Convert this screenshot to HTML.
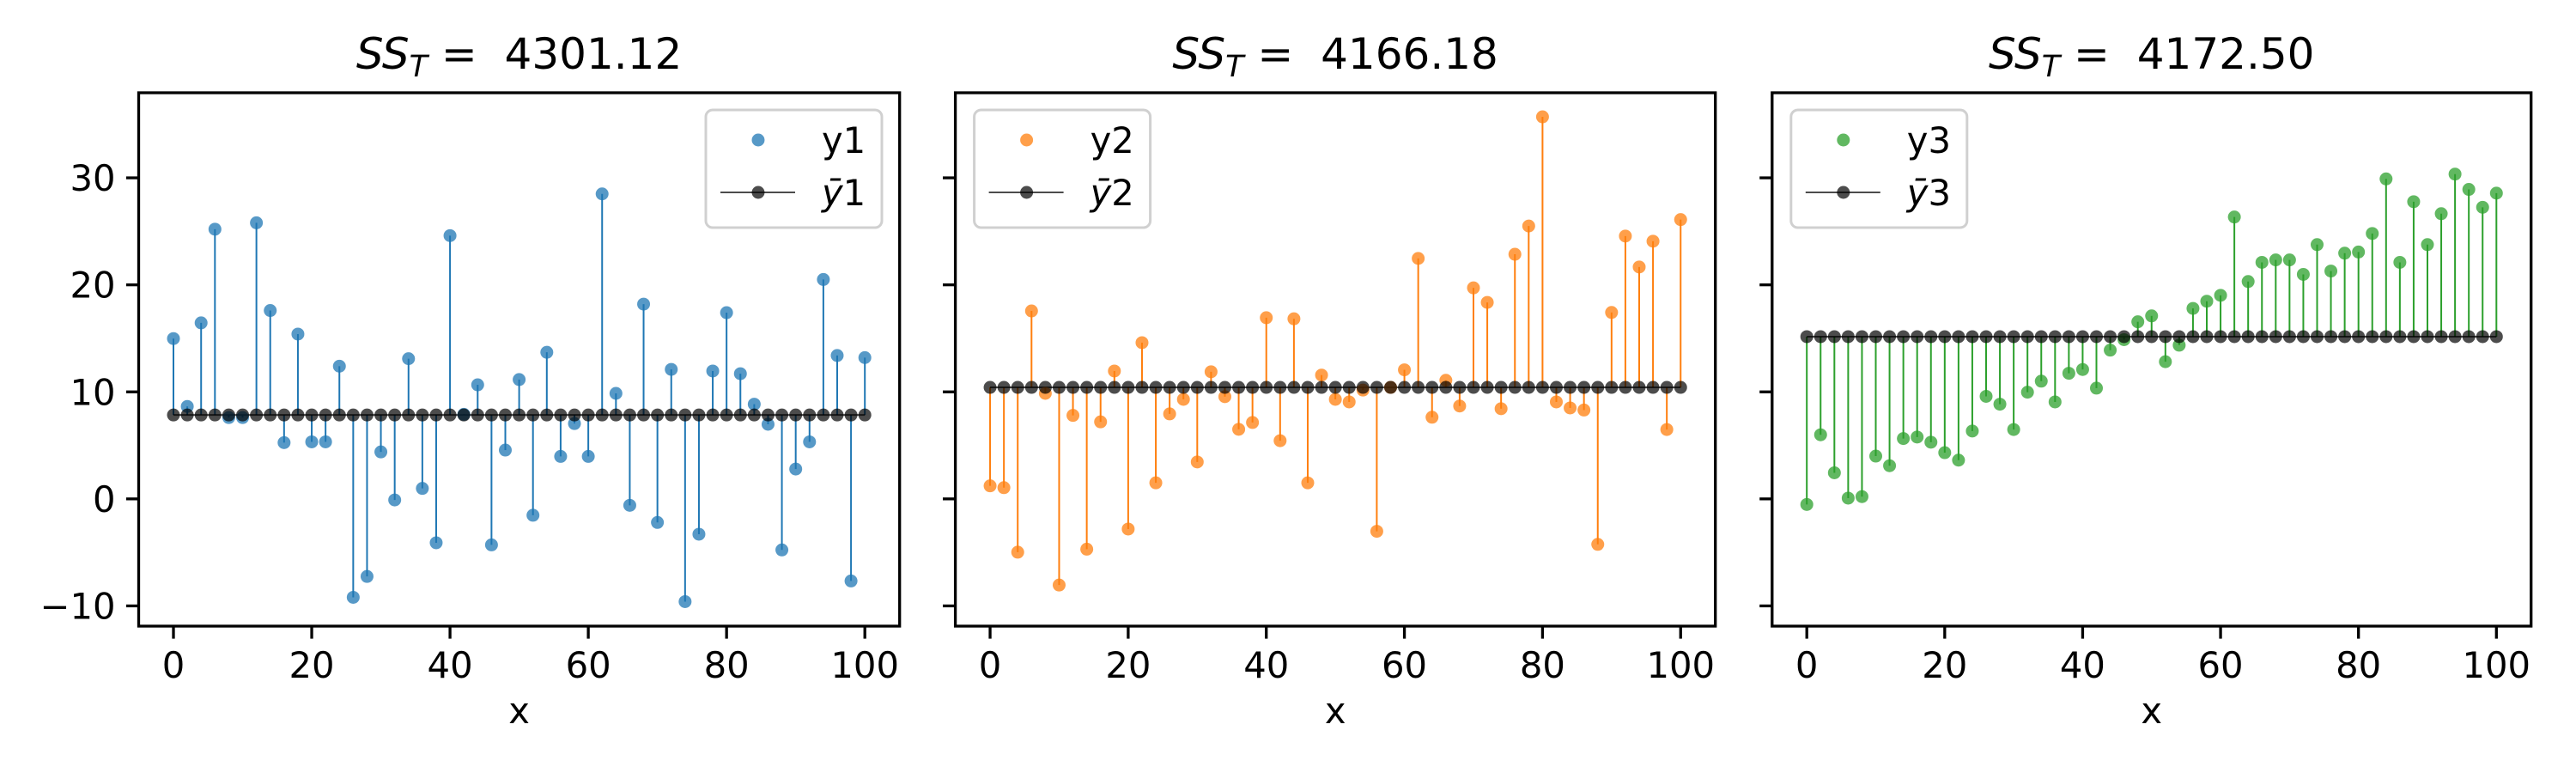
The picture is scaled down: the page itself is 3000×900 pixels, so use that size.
<!DOCTYPE html>
<html><head><meta charset="utf-8"><style>
html,body{margin:0;padding:0;background:#fff;}
svg{display:block;font-family:"DejaVu Sans","Liberation Sans",sans-serif;}
</style></head><body>
<svg id="chart" width="3000" height="900" viewBox="0 0 3000 900" xmlns="http://www.w3.org/2000/svg"></svg>
<script>
const xValues = [0,2,4,6,8,10,12,14,16,18,20,22,24,26,28,30,32,34,36,38,40,42,44,46,48,50,52,54,56,58,60,62,64,66,68,70,72,74,76,78,80,82,84,86,88,90,92,94,96,98,100];
const y1Values = [14.98,8.64,16.45,25.2,7.6,7.6,25.8,17.6,5.26,15.4,5.33,5.33,12.4,-9.2,-7.25,4.39,-0.1,13.1,0.98,-4.1,24.6,7.9,10.66,-4.3,4.56,11.15,-1.53,13.7,3.97,7.04,3.97,28.5,9.86,-0.6,18.2,-2.2,12.1,-9.6,-3.3,11.95,17.4,11.7,8.85,6.97,-4.77,2.79,5.33,20.5,13.4,-7.67,13.2];
const y2Values = [1.22,1.05,-4.98,17.56,9.86,-8.05,7.8,-4.7,7.2,11.95,-2.82,14.6,1.5,7.94,9.3,3.45,11.88,9.55,6.5,7.14,16.93,5.44,16.83,1.5,11.57,9.3,9.06,10.17,-3.03,10.42,12.06,22.47,7.63,11.08,8.68,19.72,18.36,8.43,22.86,25.5,35.7,9.06,8.5,8.3,-4.25,17.42,24.56,21.67,24.08,6.48,26.1];
const y3Values = [-0.52,5.99,2.44,0.07,0.21,4.0,3.1,5.64,5.78,5.3,4.32,3.62,6.34,9.58,8.85,6.48,9.97,11.0,9.06,11.74,12.09,10.35,13.9,14.88,16.55,17.1,12.82,14.36,17.8,18.47,19.02,26.34,20.31,22.1,22.33,22.33,20.98,23.76,21.29,22.96,23.07,24.8,29.9,22.1,27.77,23.76,26.65,30.35,28.92,27.25,28.57];
const meanValues = [7.84,10.42,15.16];
const titleValues = ["4301.12","4166.18","4172.50"];
const seriesNames = ["1","2","3"];
const yTicks = [-10,0,10,20,30];
const xTicks = [0,20,40,60,80,100];

const NS = "http://www.w3.org/2000/svg";
const svg = document.getElementById("chart");
const colors = ["#1f77b4","#ff7f0e","#2ca02c"];
const panels = [{l:161.5,r:1047.7},{l:1112.6,r:1997.7},{l:2063.8,r:2947.7}];
const TOP=108, BOT=729;
const yMin=-11.89, yMax=37.95, xMin=-5.03, xMax=105.03;
function mk(tag, attrs, parent){const e=document.createElementNS(NS,tag);for(const k in attrs)e.setAttribute(k,attrs[k]);(parent||svg).appendChild(e);return e;}
function yScale(v){return BOT-(v-yMin)/(yMax-yMin)*(BOT-TOP);}
const allY=[y1Values,y2Values,y3Values];

panels.forEach((p,i)=>{
  const xs=v=>p.l+(v-xMin)/(xMax-xMin)*(p.r-p.l);
  const g=mk("g",{});
  
  
  const t=mk("text",{x:(p.l+p.r)/2,y:80,"text-anchor":"middle","font-size":"50"},g);
  
  
  t.innerHTML='<tspan font-style="italic">SS</tspan><tspan font-style="italic" font-size="35" dy="9">T</tspan><tspan dy="-9">\u00a0=\u00a0\u00a0'+titleValues[i]+'</tspan>';
  const ys=allY[i], m=meanValues[i];
  xValues.forEach((xv,j)=>{
    const s=mk("line",{x1:xs(xv),x2:xs(xv),y1:yScale(m),y2:yScale(ys[j]),stroke:colors[i],"stroke-width":"2"},g);
    
    
  });
  const ml=mk("line",{x1:xs(xValues[0]),x2:xs(xValues[xValues.length-1]),y1:yScale(m),y2:yScale(m),stroke:"#000","stroke-opacity":"0.7","stroke-width":"2"},g);
  
  
  xValues.forEach((xv,j)=>{
    const c=mk("circle",{cx:xs(xv),cy:yScale(ys[j]),r:7.5,fill:colors[i],"fill-opacity":"0.75"},g);
    
    
  });
  xValues.forEach((xv)=>{
    const c=mk("circle",{cx:xs(xv),cy:yScale(m),r:7.5,fill:"#000","fill-opacity":"0.7"},g);
    
    
  });
  const fr=mk("rect",{x:p.l,y:TOP,width:p.r-p.l,height:BOT-TOP,fill:"none",stroke:"#000","stroke-width":"3.3"},g);
  
  
  xTicks.forEach(v=>{
    const tk=mk("line",{x1:xs(v),x2:xs(v),y1:BOT,y2:BOT+14.6,stroke:"#000","stroke-width":"3.3"},g);
    
    
    const tl=mk("text",{x:xs(v),y:BOT+60,"text-anchor":"middle","font-size":"41.7"},g);
    
    
    tl.textContent=v;
  });
  const xl=mk("text",{x:(p.l+p.r)/2,y:842,"text-anchor":"middle","font-size":"41.7"},g);
  
  
  xl.textContent="x";
  yTicks.forEach(v=>{
    const tk=mk("line",{x1:p.l-14.6,x2:p.l,y1:yScale(v),y2:yScale(v),stroke:"#000","stroke-width":"3.3"},g);
    
    
    if(i===0){
      const tl=mk("text",{x:p.l-27,y:yScale(v)+15,"text-anchor":"end","font-size":"41.7"},g);
      
      
      tl.textContent=(v<0?"\u2212"+Math.abs(v):v);
    }
  });
  const lx = i===0 ? 822 : p.l+22;
  const lg=mk("g",{},g);
  
  
  mk("rect",{x:lx,y:128,width:205,height:137,rx:8,fill:"#fff","fill-opacity":"0.8",stroke:"#d0d0d0","stroke-width":"3"},lg);
  const e1=mk("circle",{cx:lx+61,cy:163,r:7.5,fill:colors[i],"fill-opacity":"0.75"},lg);
  
  
  const t1=mk("text",{x:lx+135,y:178,"font-size":"41.7"},lg);
  
  
  t1.textContent="y"+seriesNames[i];
  mk("line",{x1:lx+17,x2:lx+104,y1:224,y2:224,stroke:"#000","stroke-opacity":"0.7","stroke-width":"2"},lg);
  const e2=mk("circle",{cx:lx+61,cy:224,r:7.5,fill:"#000","fill-opacity":"0.7"},lg);
  
  
  const t2=mk("text",{x:lx+135,y:239,"font-size":"41.7"},lg);
  
  
  t2.innerHTML='<tspan font-style="italic">ȳ</tspan>'+seriesNames[i];
});
</script>
</body></html>
